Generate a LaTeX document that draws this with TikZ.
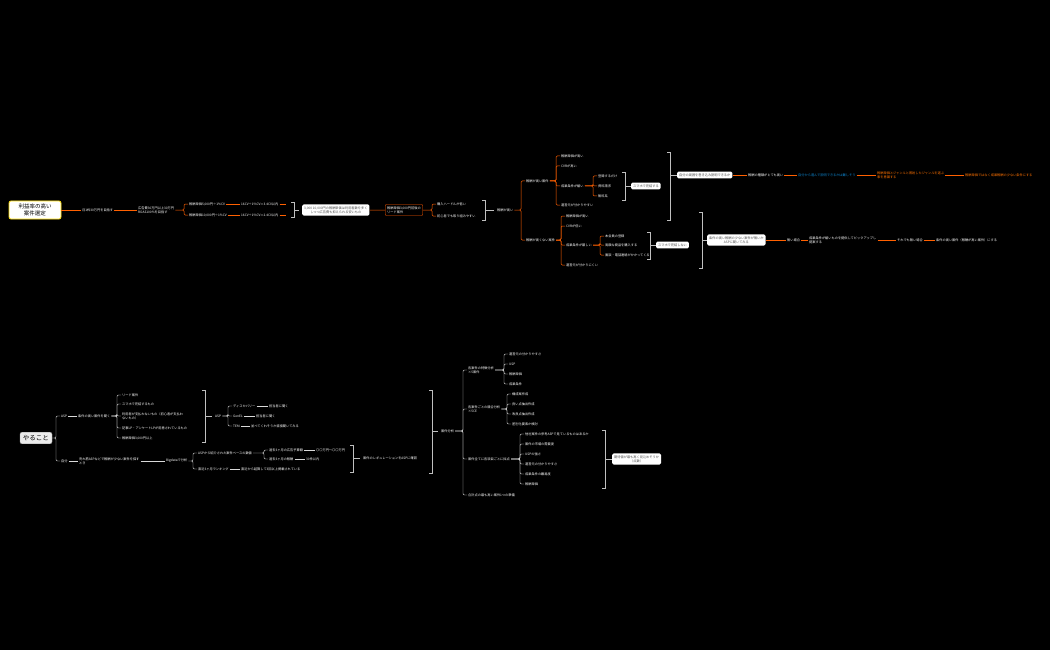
\documentclass[tikz,border=0pt]{standalone}
\usepackage{fontspec}
\setmainfont{Noto Sans CJK JP}
\begin{document}
\begin{tikzpicture}[x=1pt,y=-1pt,
 t/.style={anchor=west,text=white,font=\fontsize{3.2}{4.1}\selectfont,inner sep=1pt,align=left},
 tb/.style={t,text=cyan!70!blue},
 to/.style={t,text=orange!90!red},
 wbox/.style={t,fill=white,text=black!70,rounded corners=1.5pt,inner sep=2pt,align=center},
 ob/.style={t,fill=black,draw=orange!70!red,rounded corners=1pt,inner sep=2pt},
 oc/.style={draw=orange!75!red,line width=0.5pt},
 wc/.style={draw=white!85!black,line width=0.45pt},
 el/.style={to path={(\tikztostart.east) -- ([xshift=-4pt]\tikztotarget.west |- \tikztostart.east) |- (\tikztotarget.west)},rounded corners=1.2pt},
 br/.style={draw=white!75!black,line width=0.6pt}]
\fill[black] (0,0) rectangle (1050,650);
\useasboundingbox (0,0) rectangle (1050,650);
% ---------- top tree
\node[fill=white,draw=yellow!80!orange,line width=0.8pt,rounded corners=2pt,align=center,font=\fontsize{5.5}{7}\selectfont,inner sep=3pt,minimum width=52pt] (r1) at (35,210) {利益率の高い\\案件選定};
\node[t] (a1) at (81,210) {月1枠30万円を目指す};
\node[t] (a2) at (137,210) {広告費30万円以上30万円\\ROAS100\%を目指す};
\node[t] (a3) at (188,204) {報酬単価5,000円÷1\%CV};
\node[t] (a4) at (188,215) {報酬単価10,000円÷1\%CV};
\node[t] (a5) at (240,204) {16CV÷1\%CV＝3.4CV以内};
\node[t] (a6) at (240,215) {16CV÷1\%CV＝2.4CV以内};
\coordinate (a5e) at (286,204); \coordinate (a6e) at (286,215);
\draw[oc] (r1) -- (a1) (a1) -- (a2);
\draw[oc] (a2) to[el] (a3) (a2) to[el] (a4);
\draw[oc] (a3) -- (a5) (a4) -- (a6) (a5) -- (a5e) (a6) -- (a6e);
\draw[br] (291,202) -- (294,202) -- (294,217) -- (291,217) (294,210) -- (299,210);
\node[wbox] (b1) at (302,210) {3,000~10,000円の報酬単価は利用者数を多く\\しつつ広告費も抑えられる安いもの};
\node[ob] (b2) at (385,210) {報酬単価3,000円前後の\\リード案件};
\node[t] (b3) at (436,204) {購入ハードルが低い};
\node[t] (b4) at (436,216) {初心者でも取り組みやすい};
\draw[oc] (b1) -- (b2) (b2) to[el] (b3) (b2) to[el] (b4);
\draw[br] (482,200) -- (485,200) -- (485,220) -- (482,220) (485,210) -- (494,210);
\node[t] (c0) at (496,210) {報酬が高い};
\node[t] (h) at (525,181) {報酬が高い案件};
\node[t] (l) at (525,240) {報酬が高くない案件};
\draw[oc] (c0) to[el] (h) (c0) to[el] (l);
\node[t] (h1) at (560,156) {報酬単価が高い};
\node[t] (h2) at (560,166) {CVRが高い};
\node[t] (h3) at (560,186) {成果条件が緩い};
\node[t] (h4) at (560,205) {運営元が分かりやすい};
\foreach \n in {h1,h2,h3,h4} \draw[oc] (h) to[el] (\n);
\node[t] (h31) at (597,176) {登録するだけ};
\node[t] (h32) at (597,186) {資料請求};
\node[t] (h33) at (597,196) {無料系};
\foreach \n in {h31,h32,h33} \draw[oc] (h3) to[el] (\n);
\draw[br] (622,172) -- (625,172) -- (625,200) -- (622,200) (625,186) -- (631,186);
\node[wbox] (h5) at (631,186) {スマホで完結する};
\draw[br] (667,152) -- (670,152) -- (670,220) -- (667,220) (670,175) -- (677,175);
\node[wbox] (h6) at (677,175) {自分の周囲を巻き込み説明できるか};
\node[t] (h7) at (747,175) {報酬の種類がとても高い};
\node[tb] (h8) at (797,175) {自分から進んで説明できるかは難しそう};
\node[to] (h9) at (876,175) {報酬単価とジャンルと照射したジャンルを選ぶ\\事を意識する};
\node[to] (h10) at (964,175) {報酬単価ではなく成果報酬の少ない条件にする};
\draw[oc] (h6) -- (h7) (h7) -- (h8) (h8) -- (h9) (h9) -- (h10);
\node[t] (l1) at (565,216) {報酬単価が高い};
\node[t] (l2) at (565,226) {CVRが低い};
\node[t] (l3) at (565,245) {成果条件が厳しい};
\node[t] (l4) at (565,265) {運営元が分かりにくい};
\foreach \n in {l1,l2,l3,l4} \draw[oc] (l) to[el] (\n);
\node[t] (l31) at (604,236) {本会員の登録};
\node[t] (l32) at (604,245) {高額な商品を購入する};
\node[t] (l33) at (604,255) {面談・電話連絡がかかってくる};
\foreach \n in {l31,l32,l33} \draw[oc] (l3) to[el] (\n);
\draw[br] (647,232) -- (650,232) -- (650,259) -- (647,259) (650,245) -- (656,245);
\node[wbox] (l5) at (656,245) {スマホで完結しない};
\draw[br] (699,212) -- (702,212) -- (702,268) -- (699,268) (702,240) -- (707,240);
\node[wbox] (l6) at (707,240) {条件の高い報酬の少ない案件が無いか\\ASPに聞いてみる};
\node[t] (l7) at (786,240) {無い場合};
\node[t] (l8) at (808,240) {成果条件が緩いものを提供してピックアップし\\提案する};
\node[t] (l9) at (896,240) {それでも無い場合};
\node[t] (l10) at (935,240) {条件の高い案件（報酬が高い案件）にする};
\draw[oc] (l6) -- (l7) (l7) -- (l8) (l8) -- (l9) (l9) -- (l10);
% ---------- bottom tree
\node[fill=white!92!black,draw=white!60!black,rounded corners=2pt,font=\fontsize{6.5}{8}\selectfont,inner sep=3pt] (r2) at (36,438) {やること};
\node[t] (p1) at (60,416) {ASP};
\node[t] (p2) at (60,461) {自分};
\draw[wc] (r2) to[el] (p1) (r2) to[el] (p2);
\node[t] (q1) at (77,416) {条件の高い案件を聞く};
\draw[wc] (p1) -- (q1);
\node[t] (q11) at (121,395) {リード案件};
\node[t] (q12) at (121,404) {スマホで完結するもの};
\node[t] (q13) at (121,416) {利用者が支払わないもの（初心者が支払わ\\ないもの）};
\node[t] (q14) at (121,428) {記事LP・アンケートLPが用意されているもの};
\node[t] (q15) at (121,438) {報酬単価3,000円以上};
\foreach \n in {q11,q12,q13,q14,q15} \draw[wc] (q1) to[el] (\n);
\draw[br] (202,390) -- (205,390) -- (205,442) -- (202,442) (205,416) -- (212,416);
\node[t] (s0) at (214,416) {ASP};
\node[t] (s1) at (232,406) {ディスカバリー};
\node[t] (s2) at (232,416) {GenEL};
\node[t] (s3) at (232,426) {TEM};
\foreach \n in {s1,s2,s3} \draw[wc] (s0) to[el] (\n);
\node[t] (s11) at (268,406) {担当者に聞く};
\node[t] (s21) at (255,416) {担当者に聞く};
\node[t] (s31) at (250,426) {並べてくれそうか直接聞いてみる};
\draw[wc] (s1) -- (s11) (s2) -- (s21) (s3) -- (s31);
\node[t] (u1) at (78,461) {売れ筋ASPなどで報酬が少ない案件を探す\\とき};
\node[t] (u2) at (165,461) {Bigdataで分析};
\draw[wc] (p2) -- (u1) (u1) -- (u2);
\node[t] (u3) at (197,453) {ASPから紹介された案件ベースの数値};
\node[t] (u4) at (197,469) {直近3ヶ月ランキング};
\draw[wc] (u2) to[el] (u3) (u2) to[el] (u4);
\node[t] (u5) at (268,450) {過去3ヶ月の広告予算額};
\node[t] (u6) at (268,459) {過去3ヶ月の報酬};
\draw[wc] (u3) to[el] (u5) (u3) to[el] (u6);
\node[t] (u7) at (315,450) {〇〇万円〜〇〇万円};
\node[t] (u8) at (305,459) {30件以内};
\node[t] (u9) at (240,469) {直近から起算して3回以上掲載されている};
\draw[wc] (u5) -- (u7) (u6) -- (u8) (u4) -- (u9);
\draw[br] (350,445) -- (353,445) -- (353,472) -- (350,472) (353,458) -- (360,458);
\node[t] (v1) at (362,458) {案件のレギュレーションをASPに確認};
\draw[br] (429,390) -- (432,390) -- (432,473) -- (429,473) (432,431) -- (438,431);
\node[t] (w0) at (440,431) {案件分析};
\node[t] (w1) at (467,370) {各案件の特徴分析\\×5案件};
\node[t] (w2) at (467,409) {各案件ごとの競合分析\\×5CE};
\node[t] (w3) at (467,459) {案件全てに各項目ごとに採点};
\node[t] (w4) at (467,495) {合計点の最も高い案件1つの準備};
\foreach \n in {w1,w2,w3,w4} \draw[wc] (w0) to[el] (\n);
\node[t] (x1) at (508,354) {運営元の分かりやすさ};
\node[t] (x2) at (508,364) {USP};
\node[t] (x3) at (508,374) {報酬単価};
\node[t] (x4) at (508,384) {成果条件};
\foreach \n in {x1,x2,x3,x4} \draw[wc] (w1) to[el] (\n);
\node[t] (y1) at (511,394) {構成案作成};
\node[t] (y2) at (511,404) {良い点抽出作成};
\node[t] (y3) at (511,414) {改良点抽出作成};
\node[t] (y4) at (511,424) {差別化要素か検討};
\foreach \n in {y1,y2,y3,y4} \draw[wc] (w2) to[el] (\n);
\node[t] (z1) at (524,434) {他社案件の参考ASPで見ているものはあるか};
\node[t] (z2) at (524,444) {案件の市場の需要度};
\node[t] (z3) at (524,454) {USPの強さ};
\node[t] (z4) at (524,464) {運営元の分かりやすさ};
\node[t] (z5) at (524,474) {成果条件の難易度};
\node[t] (z6) at (524,484) {報酬単価};
\foreach \n in {z1,z2,z3,z4,z5,z6} \draw[wc] (w3) to[el] (\n);
\draw[br] (602,430) -- (605,430) -- (605,488) -- (602,488) (605,459) -- (612,459);
\node[wbox] (z7) at (612,459) {期待値が最も高く見込めそうか\\（点数）};
\end{tikzpicture}
\end{document}
